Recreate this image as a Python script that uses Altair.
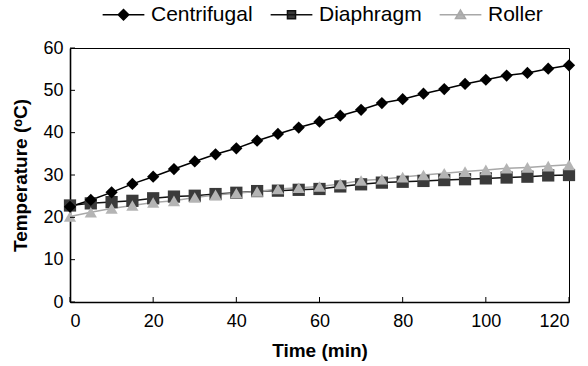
import altair as alt
import pandas as pd

time = list(range(0, 125, 5))
centrifugal = [22.5, 24.1, 25.9, 27.9, 29.6, 31.4, 33.2, 34.9, 36.3, 38.1, 39.7, 41.2, 42.6,
               44.0, 45.4, 47.0, 47.9, 49.2, 50.3, 51.5, 52.5, 53.5, 54.1, 55.1, 55.9]
diaphragm = [22.8, 23.3, 23.6, 23.9, 24.5, 24.9, 25.1, 25.5, 25.8, 26.2, 26.3, 26.5, 26.7,
             27.3, 27.8, 28.2, 28.4, 28.6, 28.8, 29.0, 29.2, 29.4, 29.6, 29.9, 30.0]
roller = [20.2, 21.2, 22.1, 22.8, 23.5, 23.9, 24.7, 25.3, 25.7, 26.1, 26.7, 27.0, 27.3,
          27.9, 28.7, 29.0, 29.5, 30.0, 30.4, 30.8, 31.2, 31.6, 31.8, 32.1, 32.4]
series = ["Centrifugal", "Diaphragm", "Roller"]
x_ticks = [0, 20, 40, 60, 80, 100, 120]
y_ticks = [0, 10, 20, 30, 40, 50, 60]

marker_colors = ["#000000", "#3a3a3a", "#b4b4b4"]
line_colors = ["#000000", "#111111", "#a8a8a8"]
plot_shapes = ["diamond", "square", "triangle-up"]
legend_shapes = [
    "M-4.4,0H4.4M0,-1.1L1.1,0L0,1.1L-1.1,0Z",
    "M-4.4,0H4.4M-0.85,-0.85H0.85V0.85H-0.85Z",
    "M-4.4,0H4.4M0,-1L1.05,0.8H-1.05Z",
]

rows = []
for name, vals in zip(series, [centrifugal, diaphragm, roller]):
    for t, v in zip(time, vals):
        rows.append({"time": t, "temp": v, "series": name})
df = pd.DataFrame(rows)
order_map = {"Diaphragm": 0, "Roller": 1, "Centrifugal": 2}
df["ord"] = df["series"].map(order_map)
df = df.sort_values(["ord", "time"]).reset_index(drop=True)

W, H = 499, 254
xs = alt.Scale(domain=[0, 120], nice=False)
ys = alt.Scale(domain=[0, 60], nice=False)

x_enc = alt.X("time:Q", scale=xs,
              axis=alt.Axis(values=x_ticks, title="Time (min)", labelPadding=10, titlePadding=11))
y_enc = alt.Y("temp:Q", scale=ys,
              axis=alt.Axis(values=y_ticks, title="Temperature (ᵒC)", labelPadding=7, titlePadding=12))

base = alt.Chart(df)

lines = base.mark_line(strokeWidth=1.5).encode(
    x=x_enc, y=y_enc,
    color=alt.Color("series:N", scale=alt.Scale(domain=series, range=line_colors), legend=None),
    detail="series:N",
)

points = base.mark_point(filled=True, opacity=1, size=150).encode(
    x=x_enc, y=y_enc,
    fill=alt.Fill("series:N", scale=alt.Scale(domain=series, range=marker_colors), legend=None),
    shape=alt.Shape("series:N", scale=alt.Scale(domain=series, range=plot_shapes), legend=None),
    order=alt.Order("ord:Q"),
)

leg = dict(orient="none", legendX=43, legendY=-44, direction="horizontal", title=None,
           symbolSize=90, symbolOpacity=1, symbolStrokeWidth=1.5, labelFontSize=21,
           labelFont="Liberation Sans", labelColor="#000000", labelOffset=17,
           columnPadding=14, padding=0, columns=3)

legend_layer = base.mark_point(filled=True, opacity=0).encode(
    x=x_enc, y=y_enc,
    shape=alt.Shape("series:N", scale=alt.Scale(domain=series, range=legend_shapes), legend=alt.Legend(**leg)),
    stroke=alt.Stroke("series:N", scale=alt.Scale(domain=series, range=line_colors), legend=alt.Legend(**leg)),
    color=alt.Color("series:N", scale=alt.Scale(domain=series, range=marker_colors), legend=alt.Legend(**leg)),
)

xt = alt.Chart(pd.DataFrame({"v": x_ticks})).mark_rule(color="black", strokeWidth=1).encode(
    x=alt.X("v:Q", scale=xs), y=alt.value(H), y2=alt.value(H - 5))
yt = alt.Chart(pd.DataFrame({"v": y_ticks})).mark_rule(color="black", strokeWidth=1).encode(
    y=alt.Y("v:Q", scale=ys), x=alt.value(0), x2=alt.value(5))

chart = alt.layer(lines, points, legend_layer, xt, yt).resolve_scale(
    shape="independent", color="independent", fill="independent", stroke="independent"
).properties(
    width=W, height=H,
    autosize=alt.AutoSizeParams(type="none"),
    padding={"left": 70, "top": 48, "right": 19, "bottom": 64},
).configure_view(
    stroke="#000000", strokeWidth=1
).configure_axis(
    grid=False, ticks=False, domainColor="#000000", domainWidth=1.6,
    labelFont="Liberation Sans", labelFontSize=18, labelColor="#000000",
    titleFont="Liberation Sans", titleFontSize=19, titleFontWeight="bold", titleColor="#000000",
)

chart.save("out.html", embed_options={"renderer": "svg", "actions": False})
